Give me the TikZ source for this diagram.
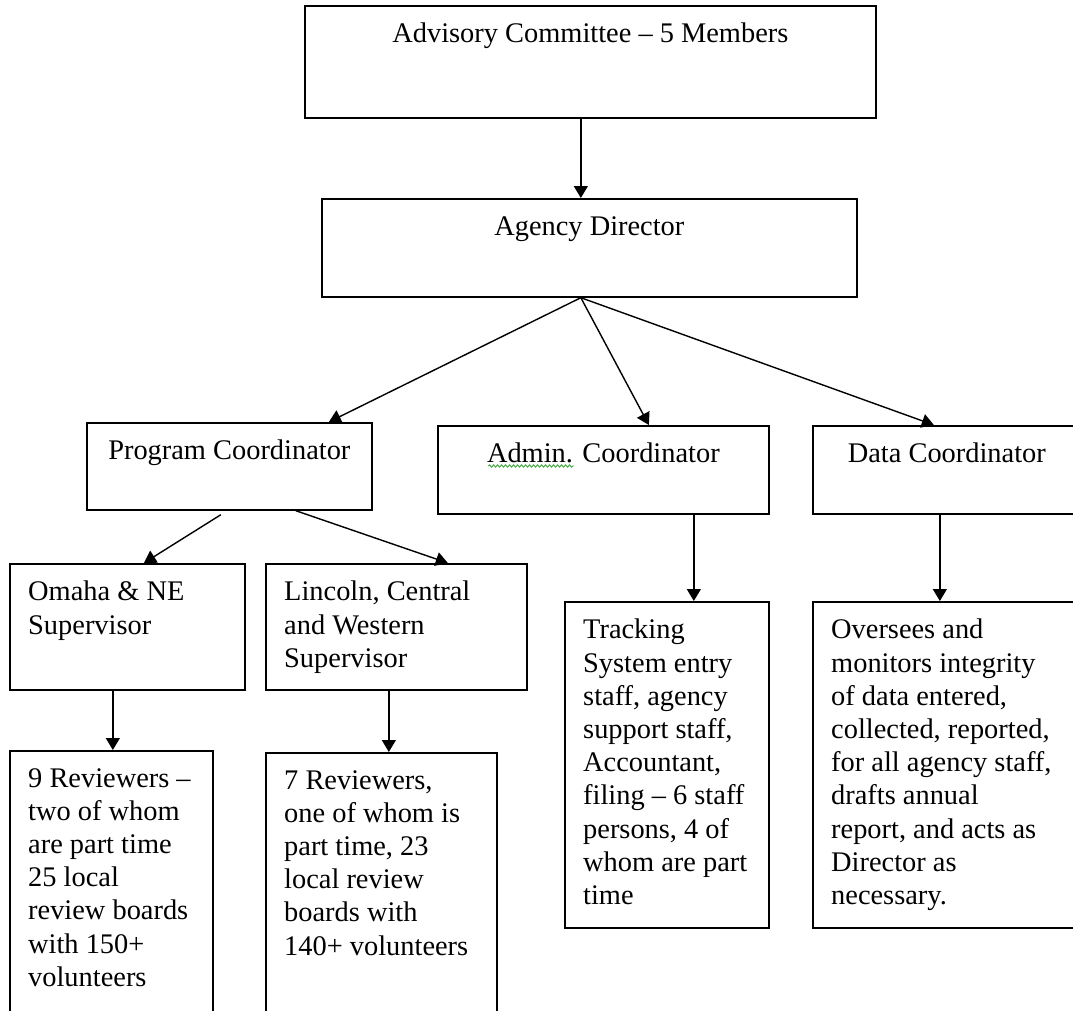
\documentclass[tikz,border=0pt]{standalone}
\usepackage{fontspec}
\setmainfont{Liberation Serif}
\usepackage{tikz}
\usetikzlibrary{positioning}
\usetikzlibrary{arrows.meta}
\usetikzlibrary{decorations.pathmorphing}
\definecolor{spellgreen}{RGB}{60,170,60}

\begin{document}
\begin{tikzpicture}[x=1pt,y=-1pt,
  orgbox/.style 2 args={draw, line width=1.7pt, rectangle, anchor=north west, inner sep=0pt, minimum width=#1pt, minimum height=#2pt},
  boxtext/.style={inner ysep=18pt, font=\fontsize{28.4}{33.2}\selectfont},
  lefttext/.style={boxtext, anchor=north west, align=left, inner xsep=19pt},
  toptext/.style={boxtext, anchor=north, align=center},
  orgarrow/.style={line width=1.4pt, -{Triangle[length=12pt,width=14pt]}},
  spellmark/.style={draw=spellgreen, line width=0.9pt, decorate, decoration={snake, amplitude=1.2pt, segment length=4pt}}]
\useasboundingbox (0,0) rectangle (1073,1010);
\clip (0,0) rectangle (1073,1010);

% Levels 1 and 2
\node [orgbox={571}{112}, label={[toptext]north:{Advisory Committee -- 5 Members}}] at (304,5) (adv) {};
\node [orgbox={535}{98}, label={[toptext]north:{Agency Director}}] at (321,198) (dir) {};
\coordinate (hub) at ([xshift=-8.5pt]dir.south);

% Level 3
\node [orgbox={285}{87}, label={[toptext]north:{Program Coordinator}}] at (86,422) (prog) {};
\node [orgbox={331}{88}, label={[toptext]north:{Admin. Coordinator}}] at (437,425) (admin) {};
\node [orgbox={268}{88}, label={[toptext]north:{Data Coordinator}}] at (812,425) (data) {};

% Levels 4 and 5
\node [orgbox={235}{126}, label={[lefttext]north west:{Omaha \& NE\\Supervisor}}] at (9,563) (omaha) {};
\node [orgbox={261}{126}, label={[lefttext]north west:{Lincoln, Central\\and Western\\Supervisor}}] at (265,563) (linc) {};
\node [orgbox={204}{326}, label={[lefttext]north west:{Tracking\\System entry\\staff, agency\\support staff,\\Accountant,\\filing -- 6 staff\\persons, 4 of\\whom are part\\time}}] at (564,601) (track) {};
\node [orgbox={268}{326}, label={[lefttext]north west:{Oversees and\\monitors integrity\\of data entered,\\collected, reported,\\for all agency staff,\\drafts annual\\report, and acts as\\Director as\\necessary.}}] at (812,601) (over) {};
\node [orgbox={203}{300}, label={[lefttext]north west:{9 Reviewers --\\two of whom\\are part time\\25 local\\review boards\\with 150+\\volunteers}}] at (9,750) (rev9) {};
\node [orgbox={231}{300}, label={[lefttext]north west:{7 Reviewers,\\one of whom is\\part time, 23\\local review\\boards with\\140+ volunteers}}] at (265,752) (rev7) {};

% Connections
\draw [orgarrow] (adv.south -| hub) -- (dir.north -| hub);
\draw [orgarrow] (hub) -- ([xshift=99.5pt]prog.north);
\draw [orgarrow] (hub) -- ([xshift=45.5pt]admin.north);
\draw [orgarrow] (hub) -- ([xshift=-13pt]data.north);
\draw [orgarrow] ([xshift=-8.5pt,yshift=-4pt]prog.south) -- ([xshift=16.5pt]omaha.north);
\draw [orgarrow] ([xshift=66.5pt]prog.south) -- ([xshift=51.5pt]linc.north);
\draw [orgarrow] ([xshift=1.5pt]rev9.north |- omaha.south) -- ([xshift=1.5pt]rev9.north);
\draw [orgarrow] ([xshift=7.5pt]rev7.north |- linc.south) -- ([xshift=7.5pt]rev7.north);
\draw [orgarrow] ([xshift=27pt]track.north |- admin.south) -- ([xshift=27pt]track.north);
\draw [orgarrow] ([xshift=-7pt]over.north |- data.south) -- ([xshift=-7pt]over.north);

% spelling mark under Admin.
\draw [spellmark] ([xshift=-115pt,yshift=-41pt]admin.north) -- ([xshift=-29.5pt,yshift=-41pt]admin.north);

\end{tikzpicture}
\end{document}
